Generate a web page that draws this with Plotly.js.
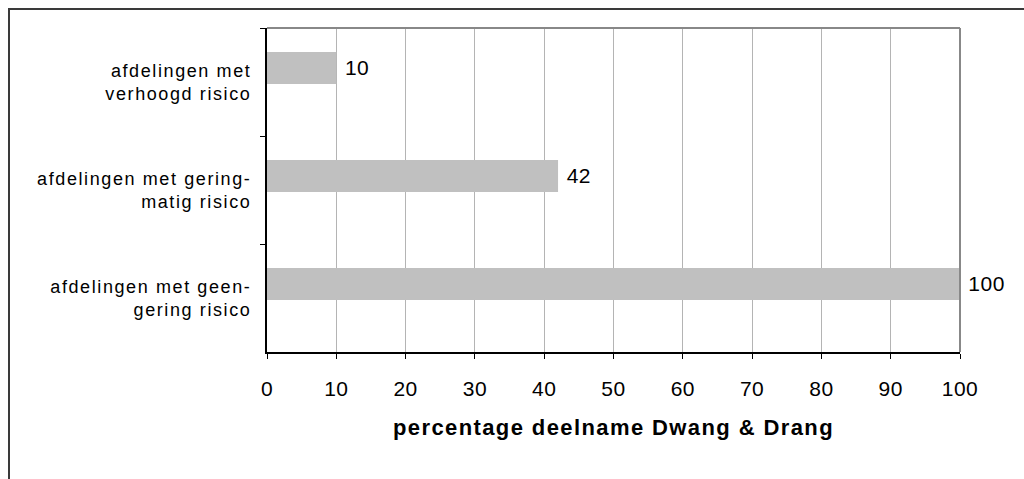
<!DOCTYPE html>
<html>
<head>
<meta charset="utf-8">
<script src="https://cdn.plot.ly/plotly-3.0.1.min.js"></script>
<style>
  html, body { margin: 0; padding: 0; background: #fff; overflow: hidden; }
  #frame { position: absolute; left: 8px; top: 8px; width: 1100px; height: 600px; border: 2px solid #3a3a3a; box-sizing: border-box; pointer-events: none; z-index: 5; }
  #chart { position: absolute; left: 0; top: 0; width: 1024px; height: 479px; }
  #chart .ytick text { letter-spacing: 1.6px; }
  #chart .xtick text { letter-spacing: 0.5px; }
  #chart .xtitle { letter-spacing: 1.4px; }
  #chart text.bartext { letter-spacing: 0.5px; }
</style>
</head>
<body>
<div id="chart"></div>
<div id="frame"></div>
<script>
const categories = [
  "afdelingen met<br>verhoogd risico",
  "afdelingen met gering-<br>matig risico",
  "afdelingen met geen-<br>gering risico"
];
const values = [10, 42, 100];
const valueLabels = ["10", "42", "100"];
const xTicks = [0, 10, 20, 30, 40, 50, 60, 70, 80, 90, 100];
const xTitle = "<b>percentage deelname Dwang &amp; Drang</b>";

const fontFam = "Liberation Sans, Arial, sans-serif";

const trace = {
  type: "bar",
  orientation: "h",
  y: categories,
  x: values,
  text: valueLabels,
  texttemplate: "\u00a0%{text}",
  textposition: "outside",
  textfont: { family: fontFam, size: 21, color: "#000" },
  cliponaxis: false,
  marker: { color: "#c0c0c0", line: { width: 0 } },
  width: 0.296,
  offset: -0.278,
  hoverinfo: "none"
};

const layout = {
  width: 1024,
  height: 479,
  margin: { l: 267, r: 64, t: 28, b: 127 },
  paper_bgcolor: "#fff",
  plot_bgcolor: "#fff",
  showlegend: false,
  font: { family: fontFam, size: 18, color: "#000" },
  xaxis: {
    range: [0, 100],
    tickvals: xTicks,
    ticks: "outside",
    ticklen: 5,
    tickcolor: "#000",
    tickwidth: 1,
    showline: true,
    linecolor: "#000",
    linewidth: 2,
    showgrid: true,
    gridcolor: "#b4b4b4",
    gridwidth: 1,
    zeroline: false,
    ticklabelstandoff: 12,
    tickfont: { family: fontFam, size: 21, color: "#000" },
    title: { text: xTitle, font: { family: fontFam, size: 22, color: "#000" }, standoff: 20 }
  },
  yaxis: {
    type: "category",
    autorange: "reversed",
    tickson: "boundaries",
    ticks: "outside",
    ticklen: 5,
    tickcolor: "#000",
    showline: true,
    linecolor: "#000",
    linewidth: 2,
    showgrid: false,
    zeroline: false,
    ticklabelstandoff: 10,
    tickfont: { family: fontFam, size: 18, color: "#000" }
  },
  shapes: [
    { type: "line", xref: "paper", yref: "paper", x0: 0, x1: 1, y0: 1, y1: 1, line: { color: "#888", width: 2 } },
    { type: "line", xref: "paper", yref: "paper", x0: 1, x1: 1, y0: 0, y1: 1, line: { color: "#888", width: 2 } }
  ]
};

Plotly.newPlot("chart", [trace], layout, { displayModeBar: false, staticPlot: true });
</script>
</body>
</html>
